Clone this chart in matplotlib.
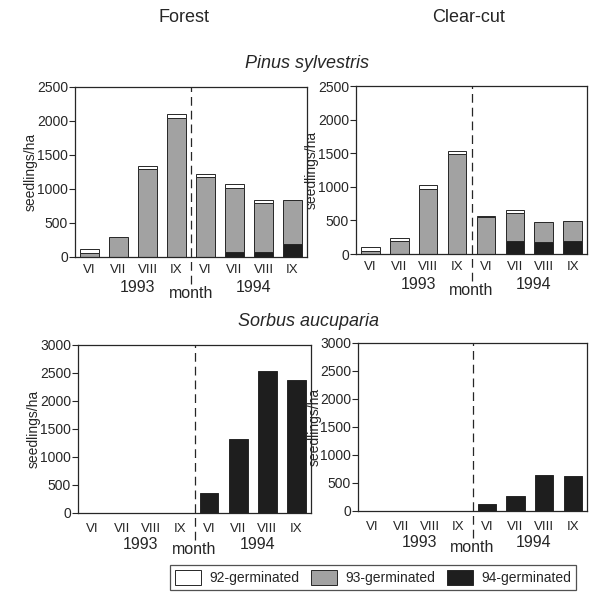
import matplotlib
matplotlib.use("Agg")
import matplotlib.pyplot as plt
from matplotlib.patches import Patch
import numpy as np

plt.rcParams['font.family'] = ['Liberation Sans', 'DejaVu Sans']
TXT = '#262626'

months = ['VI', 'VII', 'VIII', 'IX', 'VI', 'VII', 'VIII', 'IX']
years = ['1993', '1994']

# Pinus sylvestris - Forest (stacked: 94 bottom, 93 middle, 92 top)
pin_for_94 = [0, 0, 0, 0, 0, 75, 75, 190]
pin_for_93 = [65, 290, 1290, 2050, 1180, 935, 712, 647]
pin_for_92 = [50, 0, 50, 60, 45, 60, 50, 0]
# Pinus sylvestris - Clear-cut
pin_cc_94 = [0, 0, 0, 0, 0, 190, 175, 200]
pin_cc_93 = [50, 193, 970, 1490, 555, 420, 297, 297]
pin_cc_92 = [48, 50, 50, 50, 15, 45, 0, 0]
# Sorbus aucuparia
sor_for_94 = [0, 0, 0, 0, 358, 1318, 2541, 2374]
sor_cc_94 = [0, 0, 0, 0, 125, 275, 645, 622]

C92, C93, C94 = 'white', '#a2a2a2', '#1e1e1e'
EDGE = '#262626'

fig = plt.figure(figsize=(5.89, 5.93), dpi=100)
W, H = 589.0, 593.0

def ax_at(x0, x1, y0, y1):
    return fig.add_axes([x0 / W, 1 - y1 / H, (x1 - x0) / W, (y1 - y0) / H])

axes = [
    ax_at(75, 307, 87, 257),
    ax_at(356, 587, 86, 254),
    ax_at(78, 311, 345, 513),
    ax_at(358, 587, 343, 511),
]

data = [
    (pin_for_94, pin_for_93, pin_for_92, 2500),
    (pin_cc_94, pin_cc_93, pin_cc_92, 2500),
    (sor_for_94, None, None, 3000),
    (sor_cc_94, None, None, 3000),
]

x = np.arange(len(months))
bw = 0.64
for i, (ax, (d94, d93, d92, ymax)) in enumerate(zip(axes, data)):
    d94 = np.array(d94, float)
    ax.bar(x, d94, bw, color=C94, edgecolor=EDGE, linewidth=0.7)
    if d93 is not None:
        d93 = np.array(d93, float)
        d92 = np.array(d92, float)
        ax.bar(x, d93, bw, bottom=d94, color=C93, edgecolor=EDGE, linewidth=0.7)
        mask = d92 > 0
        ax.bar(x[mask], d92[mask], bw, bottom=(d94 + d93)[mask], color=C92,
               edgecolor=EDGE, linewidth=0.7)
    ax.set_xlim(-0.5, 7.5)
    ax.set_ylim(0, ymax)
    ax.set_yticks(np.arange(0, ymax + 1, 500))
    ax.tick_params(axis='y', direction='out', length=4, width=0.8, pad=1,
                   labelsize=10, colors=TXT)
    ax.tick_params(axis='x', length=0, pad=5 if i < 2 else 7, labelsize=9.5,
                   colors=TXT)
    ax.set_xticks(x)
    ax.set_xticklabels(months)
    for s in ax.spines.values():
        s.set_color(EDGE)
        s.set_linewidth(0.9)
    ax.set_ylabel('seedlings/ha', fontsize=10, color=TXT)
    ax.yaxis.label.set_va('center')
    ax.yaxis.set_label_coords(-0.19, 0.5)
    ax.axvline(3.5, ymin=-0.16, ymax=1, color=EDGE, linewidth=0.9,
               dashes=(7, 4), clip_on=False)
    yy = -0.18 if i < 2 else -0.185
    ax.text(1.65, yy, years[0], transform=ax.get_xaxis_transform(),
            ha='center', va='center', fontsize=11.5, color=TXT)
    ax.text(5.65, yy, years[1], transform=ax.get_xaxis_transform(),
            ha='center', va='center', fontsize=11.5, color=TXT)
    ax.text(3.5, yy - 0.035, 'month', transform=ax.get_xaxis_transform(),
            ha='center', va='center', fontsize=11.5, color=TXT)

fig.text(184 / W, 1 - 18 / H, 'Forest', ha='center', va='center',
         fontsize=13, color=TXT)
fig.text(469 / W, 1 - 18 / H, 'Clear-cut', ha='center', va='center',
         fontsize=13, color=TXT)
fig.text(307 / W, 1 - 63 / H, 'Pinus sylvestris', ha='center', va='center',
         fontsize=13, style='italic', color=TXT)
fig.text(309 / W, 1 - 321 / H, 'Sorbus aucuparia', ha='center', va='center',
         fontsize=13, style='italic', color=TXT)

handles = [Patch(facecolor=C92, edgecolor=EDGE, linewidth=0.7, label='92-germinated'),
           Patch(facecolor=C93, edgecolor=EDGE, linewidth=0.7, label='93-germinated'),
           Patch(facecolor=C94, edgecolor=EDGE, linewidth=0.7, label='94-germinated')]
leg = fig.legend(handles=handles, loc='lower right',
                 bbox_to_anchor=(583 / W, 1 - 597 / H), ncol=3, fontsize=10,
                 frameon=True, fancybox=False, handlelength=1.9, handleheight=1.3,
                 handletextpad=0.6, columnspacing=0.8, borderpad=0.35,
                 labelcolor=TXT)
leg.get_frame().set_edgecolor(EDGE)
leg.get_frame().set_linewidth(0.9)

fig.savefig('out.png', dpi=100)
